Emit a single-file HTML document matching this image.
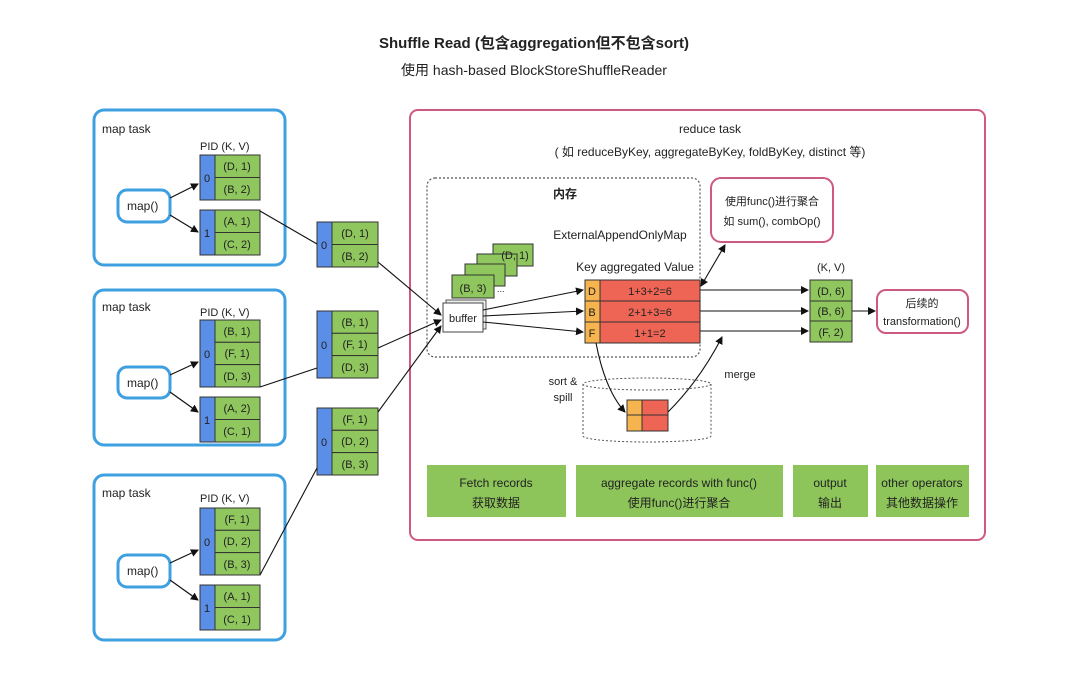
<!DOCTYPE html>
<html><head><meta charset="utf-8"><style>
body{margin:0;background:#fff}
text{font-family:"Liberation Sans","Noto Sans CJK SC",sans-serif;fill:#222}
</style></head><body>
<svg width="1068" height="669" viewBox="0 0 1068 669" xmlns="http://www.w3.org/2000/svg">
<defs><marker id="a" markerWidth="8" markerHeight="8" refX="7" refY="4" orient="auto" markerUnits="userSpaceOnUse"><path d="M0,0 L8,4 L0,8z" fill="#111"/></marker>
<marker id="b" markerWidth="8" markerHeight="8" refX="1" refY="4" orient="auto" markerUnits="userSpaceOnUse"><path d="M8,0 L0,4 L8,8z" fill="#111"/></marker></defs>
<text x="534" y="48" font-size="15" font-weight="bold" text-anchor="middle">Shuffle Read (包含aggregation但不包含sort)</text>
<text x="534" y="75" font-size="14" text-anchor="middle">使用 hash-based BlockStoreShuffleReader</text>

<g fill="none" stroke="#3ea0e0" stroke-width="3">
<rect x="94" y="110" width="191" height="155" rx="10"/>
<rect x="94" y="290" width="191" height="155" rx="10"/>
<rect x="94" y="475" width="191" height="165" rx="10"/>
<rect x="118" y="190" width="52" height="32" rx="9"/>
<rect x="118" y="367" width="52" height="31" rx="9"/>
<rect x="118" y="555" width="52" height="32" rx="9"/>
</g>
<g font-size="12">
<text x="102" y="133">map task</text><text x="102" y="311">map task</text><text x="102" y="497">map task</text>
<text x="127" y="210">map()</text><text x="127" y="387">map()</text><text x="127" y="575">map()</text>
<text x="200" y="150" font-size="11">PID  (K, V)</text>
<text x="200" y="316" font-size="11">PID  (K, V)</text>
<text x="200" y="502" font-size="11">PID  (K, V)</text>
</g>

<g stroke="#333" stroke-width="1">
<rect x="200" y="155" width="15" height="45" fill="#5b8ee6"/><rect x="215" y="155" width="45" height="22.5" fill="#8fc75e"/><rect x="215" y="177.5" width="45" height="22.5" fill="#8fc75e"/>
<rect x="200" y="210" width="15" height="45" fill="#5b8ee6"/><rect x="215" y="210" width="45" height="22.5" fill="#8fc75e"/><rect x="215" y="232.5" width="45" height="22.5" fill="#8fc75e"/>
<rect x="200" y="320" width="15" height="67" fill="#5b8ee6"/><rect x="215" y="320" width="45" height="22.3" fill="#8fc75e"/><rect x="215" y="342.3" width="45" height="22.3" fill="#8fc75e"/><rect x="215" y="364.6" width="45" height="22.4" fill="#8fc75e"/>
<rect x="200" y="397" width="15" height="45" fill="#5b8ee6"/><rect x="215" y="397" width="45" height="22.5" fill="#8fc75e"/><rect x="215" y="419.5" width="45" height="22.5" fill="#8fc75e"/>
<rect x="200" y="508" width="15" height="67" fill="#5b8ee6"/><rect x="215" y="508" width="45" height="22.3" fill="#8fc75e"/><rect x="215" y="530.3" width="45" height="22.3" fill="#8fc75e"/><rect x="215" y="552.6" width="45" height="22.4" fill="#8fc75e"/>
<rect x="200" y="585" width="15" height="45" fill="#5b8ee6"/><rect x="215" y="585" width="45" height="22.5" fill="#8fc75e"/><rect x="215" y="607.5" width="45" height="22.5" fill="#8fc75e"/>
<rect x="317" y="222" width="15" height="45" fill="#5b8ee6"/><rect x="332" y="222" width="46" height="22.5" fill="#8fc75e"/><rect x="332" y="244.5" width="46" height="22.5" fill="#8fc75e"/>
<rect x="317" y="311" width="15" height="67" fill="#5b8ee6"/><rect x="332" y="311" width="46" height="22.3" fill="#8fc75e"/><rect x="332" y="333.3" width="46" height="22.3" fill="#8fc75e"/><rect x="332" y="355.6" width="46" height="22.4" fill="#8fc75e"/>
<rect x="317" y="408" width="15" height="67" fill="#5b8ee6"/><rect x="332" y="408" width="46" height="22.3" fill="#8fc75e"/><rect x="332" y="430.3" width="46" height="22.3" fill="#8fc75e"/><rect x="332" y="452.6" width="46" height="22.4" fill="#8fc75e"/>
</g>
<g font-size="11" text-anchor="middle">
<text x="207" y="182">0</text><text x="237" y="170">(D, 1)</text><text x="237" y="193">(B, 2)</text>
<text x="207" y="237">1</text><text x="237" y="225">(A, 1)</text><text x="237" y="248">(C, 2)</text>
<text x="207" y="358">0</text><text x="237" y="335">(B, 1)</text><text x="237" y="357">(F, 1)</text><text x="237" y="380">(D, 3)</text>
<text x="207" y="424">1</text><text x="237" y="412">(A, 2)</text><text x="237" y="435">(C, 1)</text>
<text x="207" y="546">0</text><text x="237" y="523">(F, 1)</text><text x="237" y="545">(D, 2)</text><text x="237" y="568">(B, 3)</text>
<text x="207" y="612">1</text><text x="237" y="600">(A, 1)</text><text x="237" y="623">(C, 1)</text>
<text x="324" y="249">0</text><text x="355" y="237">(D, 1)</text><text x="355" y="260">(B, 2)</text>
<text x="324" y="349">0</text><text x="355" y="326">(B, 1)</text><text x="355" y="348">(F, 1)</text><text x="355" y="371">(D, 3)</text>
<text x="324" y="446">0</text><text x="355" y="423">(F, 1)</text><text x="355" y="445">(D, 2)</text><text x="355" y="468">(B, 3)</text>
</g>
<g stroke="#111" stroke-width="1.2" fill="none" marker-end="url(#a)">
<line x1="170" y1="198" x2="198" y2="184"/><line x1="170" y1="215" x2="198" y2="232"/>
<line x1="170" y1="375" x2="198" y2="362"/><line x1="170" y1="392" x2="198" y2="412"/>
<line x1="170" y1="563" x2="198" y2="550"/><line x1="170" y1="580" x2="198" y2="600"/>
</g>
<g stroke="#111" stroke-width="1.1" fill="none">
<line x1="260" y1="211" x2="317" y2="244"/>
<line x1="260" y1="387" x2="317" y2="368"/>
<line x1="260" y1="575" x2="317" y2="468"/>
</g>

<rect x="410" y="110" width="575" height="430" rx="8" fill="none" stroke="#cf5a80" stroke-width="2"/>
<text x="710" y="133" font-size="12" text-anchor="middle">reduce task</text>
<text x="710" y="156" font-size="12" text-anchor="middle">( 如 reduceByKey, aggregateByKey, foldByKey, distinct 等)</text>
<rect x="427" y="178" width="273" height="179" rx="8" fill="none" stroke="#555" stroke-dasharray="2,2" stroke-width="1.2"/>
<text x="565" y="198" font-size="12" font-weight="bold" text-anchor="middle">内存</text>
<text x="620" y="239" font-size="12" text-anchor="middle">ExternalAppendOnlyMap</text>
<g stroke="#333" fill="#8fc75e">
<rect x="493" y="244" width="40" height="22"/><rect x="477" y="254" width="40" height="22"/><rect x="465" y="264" width="40" height="22"/><rect x="452" y="275" width="42" height="23"/>
</g>
<text x="515" y="259" font-size="11" text-anchor="middle">(D, 1)</text>
<text x="473" y="292" font-size="11" text-anchor="middle">(B, 3)</text>
<text x="497" y="292" font-size="9">...</text>
<rect x="446" y="300" width="40" height="29" fill="#eee" stroke="#555"/>
<rect x="443" y="303" width="40" height="29" fill="#fff" stroke="#444"/>
<text x="463" y="322" font-size="11" text-anchor="middle">buffer</text>
<g stroke="#111" stroke-width="1.1" fill="none" marker-end="url(#a)">
<line x1="378" y1="262" x2="441" y2="315"/>
<line x1="378" y1="348" x2="441" y2="320"/>
<line x1="378" y1="412" x2="441" y2="326"/>
<line x1="483" y1="310" x2="583" y2="290"/>
<line x1="483" y1="316" x2="583" y2="311"/>
<line x1="483" y1="322" x2="583" y2="332"/>
<line x1="700" y1="290" x2="808" y2="290"/>
<line x1="700" y1="311" x2="808" y2="311"/>
<line x1="700" y1="331" x2="808" y2="331"/>
<line x1="852" y1="311" x2="875" y2="311"/>
</g>
<text x="635" y="271" font-size="12" text-anchor="middle">Key aggregated Value</text>
<g stroke="#333">
<rect x="585" y="280" width="15" height="21" fill="#f6b44e"/><rect x="600" y="280" width="100" height="21" fill="#ee6555"/>
<rect x="585" y="301" width="15" height="21" fill="#f6b44e"/><rect x="600" y="301" width="100" height="21" fill="#ee6555"/>
<rect x="585" y="322" width="15" height="21" fill="#f6b44e"/><rect x="600" y="322" width="100" height="21" fill="#ee6555"/>
</g>
<g font-size="11" text-anchor="middle">
<text x="592" y="295">D</text><text x="650" y="295">1+3+2=6</text>
<text x="592" y="316">B</text><text x="650" y="316">2+1+3=6</text>
<text x="592" y="337">F</text><text x="650" y="337">1+1=2</text>
</g>
<rect x="711" y="178" width="122" height="64" rx="10" fill="#fff" stroke="#cf5a80" stroke-width="2"/>
<text x="772" y="205" font-size="11" text-anchor="middle">使用func()进行聚合</text>
<text x="772" y="225" font-size="11" text-anchor="middle">如 sum(), combOp()</text>
<line x1="701" y1="286" x2="725" y2="245" stroke="#111" stroke-width="1.1" marker-start="url(#b)" marker-end="url(#a)"/>
<text x="831" y="271" font-size="11" text-anchor="middle">(K, V)</text>
<g stroke="#333" fill="#8fc75e">
<rect x="810" y="280" width="42" height="21"/><rect x="810" y="301" width="42" height="20"/><rect x="810" y="321" width="42" height="21"/>
</g>
<g font-size="11" text-anchor="middle"><text x="831" y="295">(D, 6)</text><text x="831" y="315">(B, 6)</text><text x="831" y="336">(F, 2)</text></g>
<rect x="877" y="290" width="91" height="43" rx="9" fill="#fff" stroke="#cf5a80" stroke-width="2"/>
<text x="922" y="307" font-size="11" text-anchor="middle">后续的</text>
<text x="922" y="325" font-size="11" text-anchor="middle">transformation()</text>

<g fill="none" stroke="#555" stroke-dasharray="2,2">
<ellipse cx="647" cy="384" rx="64" ry="6"/>
<path d="M583,384 V436 A64,6 0 0 0 711,436 V384"/>
</g>
<rect x="627" y="400" width="15" height="31" fill="#f6b44e" stroke="#333"/>
<rect x="642" y="400" width="26" height="31" fill="#ee6555" stroke="#333"/>
<line x1="627" y1="415" x2="668" y2="415" stroke="#333"/>
<text x="563" y="385" font-size="11" text-anchor="middle">sort &amp;</text>
<text x="563" y="401" font-size="11" text-anchor="middle">spill</text>
<text x="740" y="378" font-size="11" text-anchor="middle">merge</text>
<path d="M596,343 Q605,390 625,412" fill="none" stroke="#111" stroke-width="1.1" marker-end="url(#a)"/>
<path d="M668,412 Q700,380 722,337" fill="none" stroke="#111" stroke-width="1.1" marker-end="url(#a)"/>

<g fill="#8dc55a">
<rect x="427" y="465" width="139" height="52"/><rect x="576" y="465" width="207" height="52"/>
<rect x="793" y="465" width="75" height="52"/><rect x="876" y="465" width="93" height="52"/>
</g>
<g font-size="12" text-anchor="middle">
<text x="496" y="487">Fetch records</text><text x="496" y="507">获取数据</text>
<text x="679" y="487">aggregate records with func()</text><text x="679" y="507">使用func()进行聚合</text>
<text x="830" y="487">output</text><text x="830" y="507">输出</text>
<text x="922" y="487">other operators</text><text x="922" y="507">其他数据操作</text>
</g>
</svg>
</body></html>
